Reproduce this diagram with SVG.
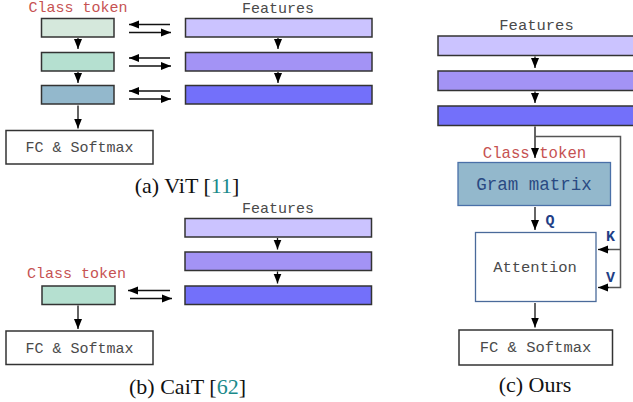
<svg xmlns="http://www.w3.org/2000/svg" width="633" height="402" viewBox="0 0 633 402">
  <style>
    .mono { font-family: "Liberation Mono", "Courier New", monospace; fill: #4a4a4a; }
    .cls { font-family: "Liberation Mono", "Courier New", monospace; fill: #c65252; }
    .kqv { font-family: "Liberation Mono", "Courier New", monospace; font-weight: bold; fill: #1f3f86; font-size: 15px; }
    .cap { font-family: "Liberation Serif", "Times New Roman", serif; font-size: 22px; fill: #111; }
    .ref { fill: #1a8a8a; }
    .box { stroke: #333; stroke-width: 1.5; }
    .c1 { fill: #d5e8dc; }
    .c2 { fill: #b5e0d0; }
    .c3 { fill: #93b8cc; }
    .f1 { fill: #cbc3ff; }
    .f2 { fill: #a393f5; }
    .f3 { fill: #7370fa; }
    .wire { stroke: #111; stroke-width: 1.3; fill: none; }
    .wire2 { stroke: #555; stroke-width: 1.5; fill: none; }
  </style>
  <defs>
    <marker id="ah" markerUnits="userSpaceOnUse" markerWidth="10" markerHeight="10" viewBox="0 0 10 10" refX="10" refY="5" orient="auto">
      <path d="M0,1 L10,5 L0,9 Z" fill="#000"/>
    </marker>
  </defs>

  <rect width="633" height="402" fill="#fff"/>

  <!-- (a) ViT -->
  <g id="vit">
    <text class="cls" x="78" y="12" font-size="15" text-anchor="middle">Class token</text>
    <text class="mono" x="278" y="13" font-size="15" text-anchor="middle">Features</text>
    <g id="vit-cls1"><rect class="box c1" x="41.5" y="18.5" width="72.5" height="18.5"/></g>
    <g id="vit-cls2"><rect class="box c2" x="41.5" y="52.5" width="72.5" height="18.5"/></g>
    <g id="vit-cls3"><rect class="box c3" x="41.5" y="85.5" width="72.5" height="18.5"/></g>
    <g id="vit-feat1"><rect class="box f1" x="185.5" y="18.5" width="186.5" height="18.5"/></g>
    <g id="vit-feat2"><rect class="box f2" x="185.5" y="52.5" width="186.5" height="18.5"/></g>
    <g id="vit-feat3"><rect class="box f3" x="185.5" y="85.5" width="186.5" height="18.5"/></g>
    <g id="vit-fc">
      <rect class="box" fill="#fff" x="6" y="130.5" width="147" height="33.5"/>
      <text class="mono" x="79.5" y="152" font-size="15" text-anchor="middle">FC &amp; Softmax</text>
    </g>
  </g>

  <!-- (b) CaiT -->
  <g id="cait">
    <text class="mono" x="278" y="213" font-size="15" text-anchor="middle">Features</text>
    <g id="cait-feat1"><rect class="box f1" x="185" y="218.5" width="186.5" height="18.5"/></g>
    <g id="cait-feat2"><rect class="box f2" x="185" y="252" width="186.5" height="18.5"/></g>
    <g id="cait-feat3"><rect class="box f3" x="185" y="286" width="186.5" height="18.5"/></g>
    <text class="cls" x="76.5" y="277.5" font-size="15" text-anchor="middle">Class token</text>
    <g id="cait-cls"><rect class="box c2" x="42" y="286" width="73" height="18.5"/></g>
    <g id="cait-fc">
      <rect class="box" fill="#fff" x="6" y="331" width="147" height="33.5"/>
      <text class="mono" x="79.5" y="352.5" font-size="15" text-anchor="middle">FC &amp; Softmax</text>
    </g>
  </g>

  <!-- (c) Ours -->
  <g id="ours">
    <text class="mono" x="536.5" y="29.5" font-size="15.5" text-anchor="middle">Features</text>
    <g id="ours-feat1"><rect class="box f1" x="438" y="36" width="200" height="19.5"/></g>
    <g id="ours-feat2"><rect class="box f2" x="438" y="71" width="200" height="19.5"/></g>
    <g id="ours-feat3"><rect class="box f3" x="438" y="106" width="200" height="19.5"/></g>
    <text class="cls" x="534.5" y="158" font-size="15.7" text-anchor="middle">Class token</text>
    <g id="ours-gram">
      <rect x="458" y="162.5" width="152.5" height="43" fill="#93b8cc" stroke="#4a70a8" stroke-width="1.3"/>
      <text x="534" y="190" font-size="17.5" text-anchor="middle" font-family="'Liberation Mono', 'Courier New', monospace" fill="#2a4a82">Gram matrix</text>
    </g>
    <g id="ours-attn">
      <rect x="475.5" y="232.5" width="120.5" height="69" fill="#fff" stroke="#4a6a9a" stroke-width="1.3"/>
      <text class="mono" x="535" y="272" font-size="15.5" text-anchor="middle">Attention</text>
    </g>
    <g id="ours-fc">
      <rect class="box" fill="#fff" x="459" y="330" width="153.5" height="35"/>
      <text class="mono" x="535.5" y="352" font-size="15.5" text-anchor="middle">FC &amp; Softmax</text>
    </g>
    <text class="kqv" x="545.5" y="225">Q</text>
    <text class="kqv" x="610.5" y="241" text-anchor="middle">K</text>
    <text class="kqv" x="610.5" y="282" text-anchor="middle">V</text>
  </g>

  <!-- connectors -->
  <g id="connectors">
    <!-- ViT: class token <-> features -->
    <line class="wire" x1="170" y1="24.5" x2="129" y2="24.5" marker-end="url(#ah)"/>
    <line class="wire" x1="129" y1="32.5" x2="171" y2="32.5" marker-end="url(#ah)"/>
    <line class="wire" x1="170" y1="58" x2="129" y2="58" marker-end="url(#ah)"/>
    <line class="wire" x1="129" y1="66" x2="171" y2="66" marker-end="url(#ah)"/>
    <line class="wire" x1="170" y1="91" x2="129" y2="91" marker-end="url(#ah)"/>
    <line class="wire" x1="129" y1="99" x2="171" y2="99" marker-end="url(#ah)"/>
    <!-- ViT: vertical flow -->
    <line class="wire" x1="78" y1="38" x2="78" y2="49" marker-end="url(#ah)"/>
    <line class="wire" x1="78" y1="72" x2="78" y2="83" marker-end="url(#ah)"/>
    <line class="wire" x1="78" y1="105.5" x2="78" y2="128.5" marker-end="url(#ah)"/>
    <line class="wire" x1="278" y1="38" x2="278" y2="49" marker-end="url(#ah)"/>
    <line class="wire" x1="278" y1="72" x2="278" y2="83" marker-end="url(#ah)"/>

    <!-- CaiT -->
    <line class="wire" x1="277.5" y1="238" x2="277.5" y2="249.5" marker-end="url(#ah)"/>
    <line class="wire" x1="277.5" y1="271.5" x2="277.5" y2="283.5" marker-end="url(#ah)"/>
    <line class="wire" x1="170" y1="290.5" x2="128" y2="290.5" marker-end="url(#ah)"/>
    <line class="wire" x1="130" y1="298.5" x2="172" y2="298.5" marker-end="url(#ah)"/>
    <line class="wire" x1="78" y1="305.5" x2="78" y2="329" marker-end="url(#ah)"/>

    <!-- Ours -->
    <line class="wire" x1="535" y1="56.5" x2="535" y2="68" marker-end="url(#ah)"/>
    <line class="wire" x1="535" y1="91.5" x2="535" y2="103" marker-end="url(#ah)"/>
    <line class="wire" x1="535" y1="126.5" x2="535" y2="158" marker-end="url(#ah)"/>
    <polyline class="wire2" points="535,136.5 620.5,136.5 620.5,287.5 608,287.5"/>
    <line class="wire2" x1="620.5" y1="249.5" x2="608" y2="249.5"/>
    <line class="wire" x1="609" y1="249.5" x2="598" y2="249.5" marker-end="url(#ah)"/>
    <line class="wire" x1="609" y1="287.5" x2="598" y2="287.5" marker-end="url(#ah)"/>
    <line class="wire" x1="535" y1="207" x2="535" y2="230" marker-end="url(#ah)"/>
    <line class="wire" x1="535" y1="303" x2="535" y2="327.5" marker-end="url(#ah)"/>
  </g>

  <!-- captions -->
  <text class="cap" x="187" y="192.5" text-anchor="middle">(a) ViT [<tspan class="ref">11</tspan>]</text>
  <text class="cap" x="187.5" y="394" text-anchor="middle">(b) CaiT [<tspan class="ref">62</tspan>]</text>
  <text class="cap" x="535" y="392" text-anchor="middle">(c) Ours</text>
</svg>
